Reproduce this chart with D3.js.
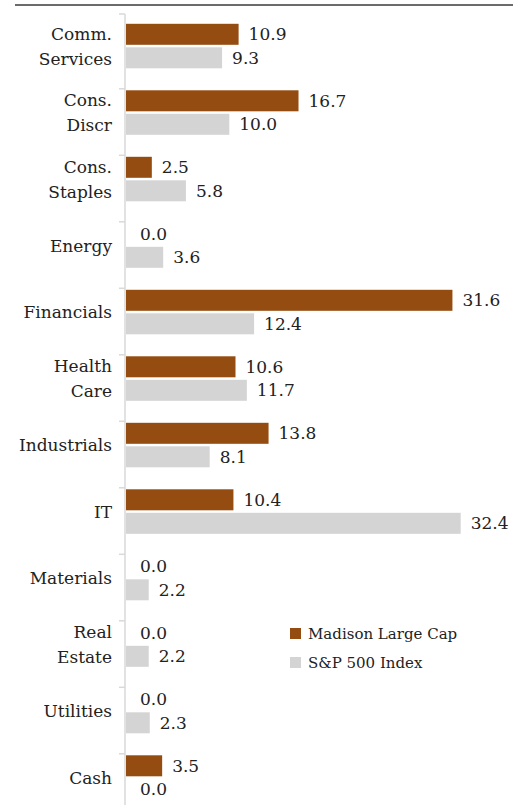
<!DOCTYPE html>
<html>
<head>
<meta charset="utf-8">
<script src="https://cdn.jsdelivr.net/npm/d3@7"></script>
<style>
  body { margin: 0; background: #fff; }
</style>
</head>
<body>
<div id="chart"></div>
<script>
// Sector weights, top to bottom
const categories = [
  ['Comm.', 'Services'], ['Cons.', 'Discr'], ['Cons.', 'Staples'], ['Energy'],
  ['Financials'], ['Health', 'Care'], ['Industrials'], ['IT'],
  ['Materials'], ['Real', 'Estate'], ['Utilities'], ['Cash']
];
const madison = [10.9, 16.7, 2.5, 0.0, 31.6, 10.6, 13.8, 10.4, 0.0, 0.0, 0.0, 3.5];
const sp500 = [9.3, 10.0, 5.8, 3.6, 12.4, 11.7, 8.1, 32.4, 2.2, 2.2, 2.3, 0.0];
const seriesNames = ['Madison Large Cap', 'S&P 500 Index'];
const colors = ['#954C10', '#D4D4D4'];

const width = 515, height = 805;
const svg = d3.select('#chart').append('svg')
  .attr('width', width)
  .attr('height', height)
  .style('font-family', "'DejaVu Serif', serif");

// top rule
svg.append('line')
  .attr('x1', 15).attr('x2', 513)
  .attr('y1', 5).attr('y2', 5)
  .attr('stroke', '#3a3a3a').attr('stroke-width', 1.5);

const x = d3.scaleLinear().domain([0, 35]).range([126, 126 + 35 * 10.33]);
const keys = categories.map((d, i) => i);
const y = d3.scaleBand().domain(keys).range([22.3, 22.3 + 12 * 66.5]);

// category axis
svg.append('line')
  .attr('x1', 125).attr('x2', 125)
  .attr('y1', 14).attr('y2', height)
  .attr('stroke', '#d9d9d9').attr('stroke-width', 1.5);

// tick at axis top, then between categories
const tickYs = [14].concat(keys.slice(1).map(d => y(d)));
svg.selectAll('.tick')
  .data(tickYs)
  .join('line')
    .attr('class', 'tick')
    .attr('x1', 119).attr('x2', 125)
    .attr('y1', d => d).attr('y2', d => d)
    .attr('stroke', '#d9d9d9').attr('stroke-width', 1.5);

const barH = 21;
const series = [madison, sp500];
const offsets = [1.5, 25];

series.forEach((vals, s) => {
  svg.selectAll('.bar' + s)
    .data(vals)
    .join('rect')
      .attr('class', 'bar' + s)
      .attr('x', x(0))
      .attr('y', (d, i) => y(i) + offsets[s])
      .attr('width', d => x(d) - x(0))
      .attr('height', barH)
      .attr('fill', colors[s]);

  svg.selectAll('.val' + s)
    .data(vals)
    .join('text')
      .attr('class', 'val' + s)
      .attr('x', d => x(d) + (d === 0 ? 14 : 10))
      .attr('y', (d, i) => y(i) + offsets[s] + barH / 2)
      .attr('dy', '0.35em')
      .attr('font-size', 17)
      .attr('fill', '#222')
      .text(d => d.toFixed(1));
});

// category labels
const labels = svg.selectAll('.cat')
  .data(categories)
  .join('text')
    .attr('class', 'cat')
    .attr('text-anchor', 'end')
    .attr('font-size', 17)
    .attr('fill', '#222')
    .attr('x', 112);

labels.each(function (lines, i) {
  const t = d3.select(this);
  const mid = y(i) + 24;
  const start = mid - (lines.length - 1) * 12.5;
  lines.forEach((ln, j) => {
    t.append('tspan')
      .attr('x', 112)
      .attr('y', start + j * 25)
      .attr('dy', '0.35em')
      .text(ln);
  });
});

// legend
const legend = svg.append('g').attr('transform', 'translate(290,628)');
seriesNames.forEach((name, i) => {
  const g = legend.append('g').attr('transform', `translate(0,${i * 29})`);
  g.append('rect').attr('width', 11).attr('height', 11).attr('fill', colors[i]);
  g.append('text')
    .attr('x', 18).attr('y', 6)
    .attr('dy', '0.35em')
    .attr('font-size', 15)
    .attr('fill', '#222')
    .text(name);
});
</script>
</body>
</html>
